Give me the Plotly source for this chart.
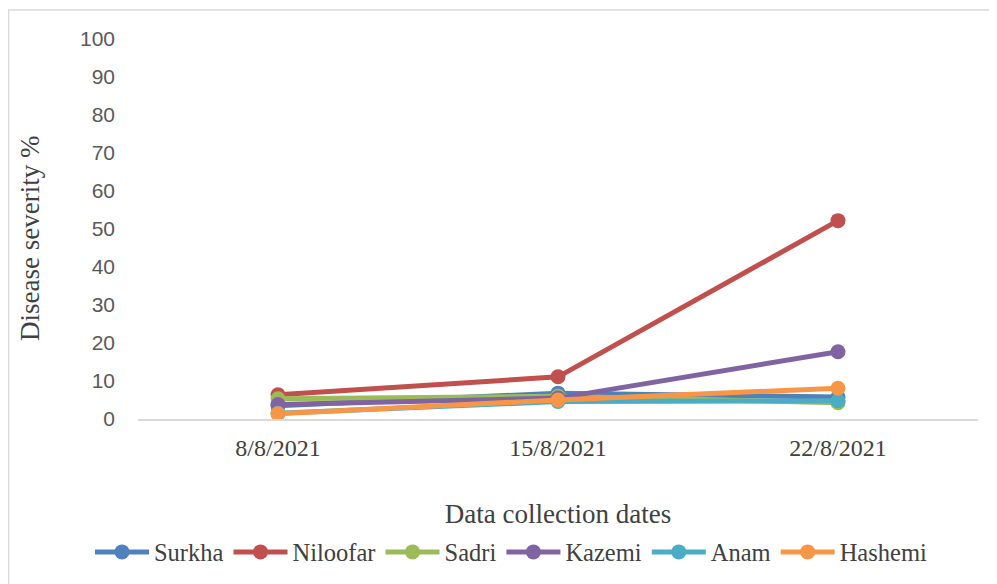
import plotly.graph_objects as go

dates = ["8/8/2021", "15/8/2021", "22/8/2021"]
surkha = [3.5, 6.8, 5.8]
niloofar = [6.4, 11.1, 52.2]
sadri = [5.3, 6.0, 4.3]
kazemi = [3.8, 5.5, 17.7]
anam = [1.5, 4.6, 4.8]
hashemi = [1.4, 5.0, 8.1]

series = [
    ("Surkha", surkha, "#4F81BD"),
    ("Niloofar", niloofar, "#C0504D"),
    ("Sadri", sadri, "#9BBB59"),
    ("Kazemi", kazemi, "#8064A2"),
    ("Anam", anam, "#4BACC6"),
    ("Hashemi", hashemi, "#F79646"),
]

fig = go.Figure()
for name, vals, col in series:
    fig.add_trace(go.Scatter(
        x=dates, y=vals, name=name, mode="lines+markers",
        line=dict(color=col, width=5),
        marker=dict(color=col, size=15),
    ))

serif = "Liberation Serif"
fig.update_layout(
    width=997, height=584,
    margin=dict(l=130, r=27, t=31, b=173, autoexpand=False),
    paper_bgcolor="white", plot_bgcolor="white",
    font=dict(family=serif, color="#404040"),
    showlegend=True,
    legend=dict(orientation="h", xref="container", yref="container",
                x=0.5045, xanchor="center", y=1 - 544 / 584, yanchor="middle",
                font=dict(family=serif, size=24.5, color="#404040"),
                itemwidth=54, tracegroupgap=0),
    xaxis=dict(type="category", range=[-0.5, 2.5], showgrid=False,
               showline=True, linecolor="#D9D9D9", linewidth=2,
               tickfont=dict(family=serif, size=24, color="#404040"),
               ticklabelstandoff=6,
               title=dict(text="Data collection dates", font=dict(family=serif, size=27, color="#404040"),
                          standoff=48)),
    yaxis=dict(range=[0, 100], dtick=10, showgrid=False, zeroline=False, showline=False,
               tickfont=dict(family="Liberation Sans", size=21, color="#595959"),
               ticklabelstandoff=22),
    annotations=[dict(text="Disease severity %", xref="paper", yref="paper",
                      x=(22 - 130) / 840, y=(411 - 231) / 380, textangle=-90,
                      showarrow=False, xanchor="center", yanchor="middle",
                      font=dict(family=serif, size=27, color="#404040"))],
    shapes=[dict(type="rect", xref="paper", yref="paper",
                 x0=(0.5 - 130) / 840, x1=(1100 - 130) / 840,
                 y0=(411 - 700) / 380, y1=(411 - 2) / 380,
                 line=dict(color="#D9D9D9", width=1.5), layer="below")],
)

fig.write_html("out.html")
